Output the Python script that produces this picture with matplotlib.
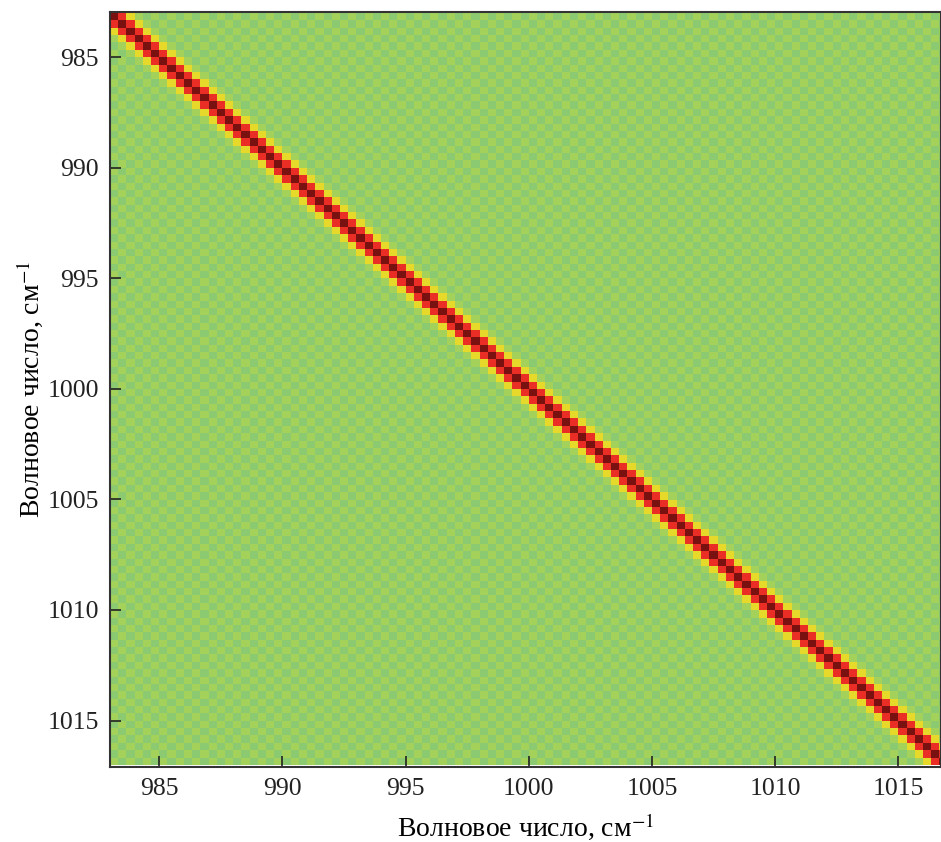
import numpy as np
import matplotlib.pyplot as plt
import matplotlib as mpl
from matplotlib.colors import LinearSegmentedColormap

mpl.rcParams['font.family'] = 'serif'
mpl.rcParams['font.serif'] = ['Liberation Serif', 'DejaVu Serif']
mpl.rcParams['mathtext.fontset'] = 'stix'

# Wavenumber grid (cm^-1), step 1/3
wn_start, wn_stop, n_points = 983.0, 1017.0, 102

# Correlation vs. lag (in grid steps): diagonal, 1st and 2nd off-diagonals
band = [1.0, 0.72, 0.38]
# Far from the diagonal the values alternate in sign (checkerboard)
tail = [-0.035, 0.035]

ticks = [985, 990, 995, 1000, 1005, 1010, 1015]

idx = np.arange(n_points)
lag = np.abs(idx[:, None] - idx[None, :])
corr = np.where(lag < len(band),
                np.array(band + [0.0])[np.minimum(lag, len(band))],
                np.array(tail)[lag % 2])

cmap = LinearSegmentedColormap.from_list(
    'corr',
    [(0.0, '#8bca74'), (0.07, '#a3d15b'), (0.38, '#e6e62a'),
     (0.72, '#f03027'), (1.0, '#7a1111')])

fig = plt.figure(figsize=(9.41, 8.42), dpi=100)
ax = fig.add_axes([110 / 941, 75 / 842, 1 - 110 / 941, (767 - 12) / 842])

ax.imshow(corr, cmap=cmap, vmin=-0.04, vmax=1.0, aspect='auto',
          interpolation='nearest',
          extent=[wn_start, wn_stop, wn_stop, wn_start])

ax.set_xlim(983.0, 1016.73)
ax.set_ylim(1017.1, 982.96)
ax.set_xticks(ticks)
ax.set_yticks(ticks)
ax.tick_params(direction='in', length=8, width=1.2, labelsize=18.5,
               colors='#222222', pad=8)
for s in ax.spines.values():
    s.set_linewidth(1.5)
    s.set_color('#333333')

ax.set_xlabel(r'Волновое число, см$^{-1}$', fontsize=20, labelpad=8)
ax.set_ylabel(r'Волновое число, см$^{-1}$', fontsize=20, labelpad=2)

plt.savefig('out.png', dpi=100)
